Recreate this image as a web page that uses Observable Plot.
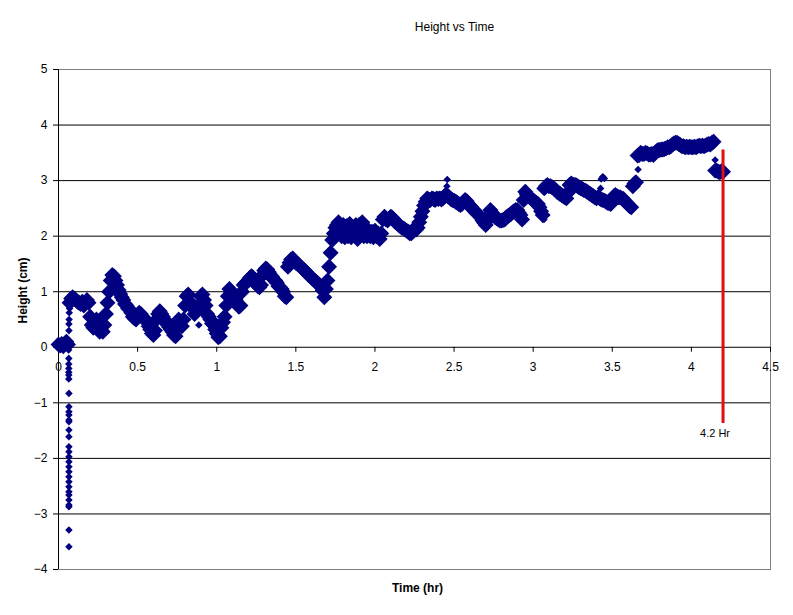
<!DOCTYPE html>
<html>
<head>
<meta charset="utf-8">
<script src="https://cdn.jsdelivr.net/npm/d3@7"></script>
<script src="https://cdn.jsdelivr.net/npm/@observablehq/plot@0.6"></script>
<style>
  html, body { margin: 0; padding: 0; background: #fff; }
  #chart svg { display: block; }
</style>
</head>
<body>
<div id="chart"></div>
<script>
// Main recording: time (hr) and height (cm)
const timeHr = [
  0.00,0.01,0.02,0.03,0.04,0.05,0.06,0.07,0.08,0.09,
  0.10,0.11,0.12,0.13,0.14,0.15,0.16,0.17,0.18,0.19,
  0.20,0.21,0.22,0.23,0.24,0.25,0.26,0.27,0.28,0.29,
  0.30,0.31,0.32,0.33,0.34,0.35,0.36,0.37,0.38,0.39,
  0.40,0.41,0.42,0.43,0.44,0.45,0.46,0.47,0.48,0.49,
  0.50,0.51,0.52,0.53,0.54,0.55,0.56,0.57,0.58,0.59,
  0.60,0.61,0.62,0.63,0.64,0.65,0.66,0.67,0.68,0.69,
  0.70,0.71,0.72,0.73,0.74,0.75,0.76,0.77,0.78,0.79,
  0.80,0.81,0.82,0.83,0.84,0.85,0.86,0.87,0.88,0.89,
  0.90,0.91,0.92,0.93,0.94,0.95,0.96,0.97,0.98,0.99,
  1.00,1.01,1.02,1.03,1.04,1.05,1.06,1.07,1.08,1.09,
  1.10,1.11,1.12,1.13,1.14,1.15,1.16,1.17,1.18,1.19,
  1.20,1.21,1.22,1.23,1.24,1.25,1.26,1.27,1.28,1.29,
  1.30,1.31,1.32,1.33,1.34,1.35,1.36,1.37,1.38,1.39,
  1.40,1.41,1.42,1.43,1.44,1.45,1.46,1.47,1.48,1.49,
  1.50,1.51,1.52,1.53,1.54,1.55,1.56,1.57,1.58,1.59,
  1.60,1.61,1.62,1.63,1.64,1.65,1.66,1.67,1.68,1.69,
  1.70,1.71,1.72,1.73,1.74,1.75,1.76,1.77,1.78,1.79,
  1.80,1.81,1.82,1.83,1.84,1.85,1.86,1.87,1.88,1.89,
  1.90,1.91,1.92,1.93,1.94,1.95,1.96,1.97,1.98,1.99,
  2.00,2.01,2.02,2.03,2.04,2.05,2.06,2.07,2.08,2.09,
  2.10,2.11,2.12,2.13,2.14,2.15,2.16,2.17,2.18,2.19,
  2.20,2.21,2.22,2.23,2.24,2.25,2.26,2.27,2.28,2.29,
  2.30,2.31,2.32,2.33,2.34,2.35,2.36,2.37,2.38,2.39,
  2.40,2.41,2.42,2.43,2.44,2.45,2.46,2.47,2.48,2.49,
  2.50,2.51,2.52,2.53,2.54,2.55,2.56,2.57,2.58,2.59,
  2.60,2.61,2.62,2.63,2.64,2.65,2.66,2.67,2.68,2.69,
  2.70,2.71,2.72,2.73,2.74,2.75,2.76,2.77,2.78,2.79,
  2.80,2.81,2.82,2.83,2.84,2.85,2.86,2.87,2.88,2.89,
  2.90,2.91,2.92,2.93,2.94,2.95,2.96,2.97,2.98,2.99,
  3.00,3.01,3.02,3.03,3.04,3.05,3.06,3.07,3.08,3.09,
  3.10,3.11,3.12,3.13,3.14,3.15,3.16,3.17,3.18,3.19,
  3.20,3.21,3.22,3.23,3.24,3.25,3.26,3.27,3.28,3.29,
  3.30,3.31,3.32,3.33,3.34,3.35,3.36,3.37,3.38,3.39,
  3.40,3.41,3.42,3.43,3.44,3.45,3.46,3.47,3.48,3.49,
  3.50,3.51,3.52,3.53,3.54,3.55,3.56,3.57,3.58,3.59,
  3.60,3.61,3.62,3.63,3.64,3.65,3.66,3.67,3.68,3.69,
  3.70,3.71,3.72,3.73,3.74,3.75,3.76,3.77,3.78,3.79,
  3.80,3.81,3.82,3.83,3.84,3.85,3.86,3.87,3.88,3.89,
  3.90,3.91,3.92,3.93,3.94,3.95,3.96,3.97,3.98,3.99,
  4.00,4.01,4.02,4.03,4.04,4.05,4.06,4.07,4.08,4.09,
  4.10,4.11,4.12,4.13,4.14,4.15,4.16,4.17,4.18,4.19,
  4.20
];
const heightCm = [
  0.05,0.03,0.06,0.02,0.07,0.10,0.05,0.80,0.88,0.90,
  0.87,0.85,0.82,0.80,0.78,0.82,0.75,0.80,0.85,0.80,
  0.55,0.40,0.35,0.45,0.50,0.35,0.28,0.30,0.28,0.40,
  0.60,0.80,1.00,1.20,1.30,1.28,1.20,1.12,1.03,0.96,
  0.90,0.85,0.78,0.75,0.70,0.68,0.62,0.55,0.52,0.50,
  0.55,0.62,0.60,0.55,0.52,0.50,0.45,0.38,0.32,0.25,
  0.22,0.30,0.50,0.60,0.65,0.60,0.55,0.50,0.45,0.40,
  0.36,0.32,0.28,0.22,0.20,0.35,0.50,0.45,0.38,0.50,
  0.75,0.92,0.95,0.82,0.75,0.70,0.60,0.68,0.70,0.75,
  0.92,0.95,0.85,0.75,0.60,0.55,0.50,0.43,0.40,0.32,
  0.25,0.18,0.20,0.35,0.45,0.55,0.75,0.92,1.05,0.98,
  0.90,0.88,0.85,0.80,0.73,0.75,1.00,1.12,1.15,1.18,
  1.20,1.25,1.28,1.25,1.20,1.15,1.10,1.08,1.12,1.30,
  1.38,1.42,1.40,1.35,1.30,1.27,1.22,1.20,1.16,1.10,
  1.08,1.05,1.00,0.92,0.90,1.45,1.52,1.58,1.60,1.56,
  1.52,1.50,1.48,1.45,1.42,1.40,1.37,1.34,1.30,1.28,
  1.25,1.22,1.20,1.17,1.15,1.12,1.08,1.02,0.90,1.05,
  1.20,1.45,1.70,1.93,2.05,2.15,2.20,2.25,2.15,2.00,
  2.20,1.98,2.18,2.00,2.22,1.98,2.15,2.05,2.20,1.95,
  2.20,2.05,2.25,2.00,2.15,2.00,2.10,2.00,2.08,1.98,
  2.10,2.00,2.05,1.95,2.05,2.30,2.35,2.30,2.28,2.32,
  2.35,2.33,2.30,2.25,2.23,2.20,2.18,2.15,2.14,2.12,
  2.10,2.08,2.05,2.05,2.10,2.14,2.12,2.15,2.25,2.35,
  2.45,2.55,2.62,2.68,2.66,2.65,2.68,2.67,2.65,2.68,
  2.67,2.68,2.66,2.68,2.72,2.75,2.72,2.70,2.67,2.65,
  2.64,2.62,2.60,2.58,2.56,2.58,2.62,2.65,2.63,2.58,
  2.55,2.52,2.48,2.45,2.42,2.40,2.37,2.33,2.28,2.24,
  2.20,2.28,2.38,2.47,2.42,2.38,2.34,2.32,2.30,2.28,
  2.28,2.29,2.30,2.34,2.36,2.38,2.40,2.43,2.45,2.47,
  2.47,2.42,2.38,2.30,2.65,2.80,2.75,2.72,2.70,2.67,
  2.64,2.62,2.60,2.58,2.52,2.45,2.38,2.86,2.90,2.92,
  2.90,2.90,2.88,2.86,2.84,2.80,2.78,2.76,2.74,2.72,
  2.70,2.68,2.78,2.92,2.95,2.93,2.92,2.92,2.90,2.88,
  2.86,2.85,2.83,2.82,2.80,2.78,2.76,2.74,2.72,2.70,
  2.68,2.70,2.68,2.66,2.65,2.64,2.62,2.60,2.59,2.58,
  2.65,2.72,2.74,2.72,2.70,2.70,2.68,2.67,2.63,2.60,
  2.57,2.54,2.52,2.90,2.95,2.97,3.45,3.46,3.50,3.48,
  3.48,3.50,3.49,3.47,3.47,3.48,3.46,3.50,3.53,3.55,
  3.55,3.56,3.56,3.57,3.58,3.60,3.60,3.62,3.65,3.67,
  3.68,3.68,3.66,3.64,3.62,3.62,3.60,3.61,3.60,3.61,
  3.60,3.60,3.61,3.60,3.62,3.63,3.62,3.63,3.62,3.63,
  3.65,3.66,3.65,3.68,3.70,3.18,3.18,3.16,3.15,3.17,
  3.16
];
// Sparse readings: start-up transient and isolated points
const sparseTime = [
  0.066,0.066,0.067,0.068,0.070,
  0.064,0.065,0.065,0.065,0.065,0.065,0.065,0.066,0.066,0.066,
  0.066,0.066,0.066,0.066,0.066,0.066,0.066,0.066,0.066,0.066,
  0.066,0.066,0.066,0.066,0.066,0.066,0.066,0.066,0.066,0.066,
  0.066,
  0.887,2.455,2.457,3.068,3.426,3.430,3.440,3.450,3.663,4.150
];
const sparseHeight = [
  0.30,0.42,0.50,0.62,0.70,
  -0.05,-0.20,-0.30,-0.38,-0.45,-0.50,-0.57,-0.83,-1.07,-1.16,
  -1.22,-1.31,-1.34,-1.49,-1.61,-1.79,-1.88,-1.97,-2.06,-2.15,
  -2.24,-2.33,-2.42,-2.51,-2.60,-2.66,-2.75,-2.84,-2.87,-3.29,
  -3.59,
  0.40,2.90,3.02,2.30,2.86,3.03,3.07,3.04,3.20,3.37
];
// Marker line at 4.2 hr
const markerTime = 4.2;
const markerTop = 3.55;
const markerBottom = -1.37;
const markerLabel = "4.2 Hr";
// Axes
const xTicks = [0, 0.5, 1, 1.5, 2, 2.5, 3, 3.5, 4, 4.5];
const yTicks = [-4, -3, -2, -1, 0, 1, 2, 3, 4, 5];
const gridLines = [-3, -2, -1, 0, 1, 2, 3, 4];
const title = "Height vs Time";
const xLabel = "Time (hr)";
const yLabel = "Height (cm)";

const mainData = timeHr.map((t, i) => ({t, h: heightCm[i]}));
const sparseData = sparseTime.map((t, i) => ({t, h: sparseHeight[i]}));
const navy = "#000080";

const chart = Plot.plot({
  width: 793,
  height: 615,
  marginLeft: 58,
  marginRight: 23,
  marginTop: 69,
  marginBottom: 46,
  style: {fontFamily: "'Liberation Sans', Arial, sans-serif", fontSize: "12px", color: "black", background: "white"},
  x: {domain: [0, 4.5]},
  y: {domain: [-4, 5]},
  marks: [
    Plot.frame({stroke: "#808080"}),
    Plot.ruleY(gridLines, {stroke: "black", strokeWidth: 1}),
    Plot.ruleX([0], {stroke: "black", strokeWidth: 1}),
    Plot.axisY({ticks: yTicks, tickSize: 5, tickPadding: 6, label: null, stroke: "black", fill: "black", fontSize: 12}),
    Plot.axisX({ticks: [], label: null}),
    Plot.ruleX(xTicks, {x: d => d, y1: 0, y2: -0.09, stroke: "black"}),
    Plot.dot(mainData, {x: "t", y: "h", symbol: "diamond2", r: 5.6, fill: navy, stroke: navy, strokeWidth: 2.5}),
    Plot.dot(sparseData, {x: "t", y: "h", symbol: "diamond2", r: 3.4, fill: navy}),
    Plot.ruleX([markerTime], {y1: markerTop, y2: markerBottom, stroke: "#e01010", strokeWidth: 3}),
    Plot.text([markerLabel], {x: markerTime, y: markerBottom, dx: -8, dy: 10, fontSize: 11, fill: "black"}),
    Plot.text(xTicks, {x: d => d, y: 0, dy: 20, text: d => String(d), fill: "black", fontSize: 12}),
    Plot.text([title], {frameAnchor: "top", dx: 40, dy: -47, fontSize: 12, fill: "black"}),
    Plot.text([xLabel], {frameAnchor: "bottom", dx: 3, dy: 22, fontSize: 12, fontWeight: "bold", fill: "black"}),
    Plot.text([yLabel], {frameAnchor: "left", dx: -35, dy: 4, rotate: -90, fontSize: 12, fontWeight: "bold", fill: "black"})
  ]
});
document.getElementById("chart").appendChild(chart);
</script>
</body>
</html>
